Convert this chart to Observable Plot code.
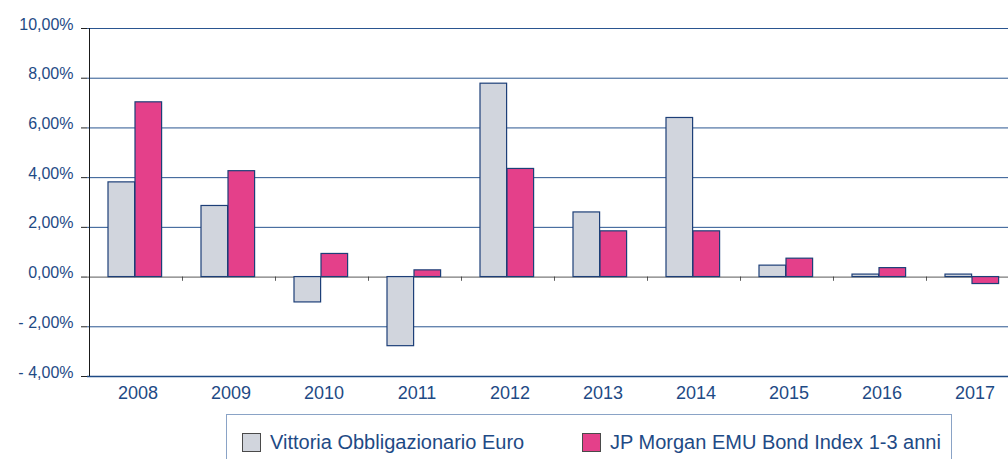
<!DOCTYPE html>
<html><head><meta charset="utf-8">
<script src="https://cdn.jsdelivr.net/npm/d3@7"></script>
<script src="https://cdn.jsdelivr.net/npm/@observablehq/plot@0.6"></script>
<style>
html,body{margin:0;padding:0;background:#fff;overflow:hidden;width:1008px;height:459px;}
#wrap{position:relative;width:1008px;height:459px;overflow:hidden;font-family:"Liberation Sans",Arial,sans-serif;}
#legend{position:absolute;left:226px;top:414px;width:726px;height:60px;border:1.5px solid #8aa3c6;box-sizing:border-box;}
.item{position:absolute;top:16px;display:flex;align-items:center;font-size:20px;color:#1e4a85;white-space:nowrap;}
.sw{width:17px;height:17px;border:1.5px solid #4a4a4a;margin-right:9px;}
</style></head>
<body><div id="wrap"><div id="chart"></div><div id="legend"></div></div>
<script>
const years = ["2008","2009","2010","2011","2012","2013","2014","2015","2016","2017"];
const vittoria = [3.81, 2.86, -1.02, -2.78, 7.78, 2.60, 6.40, 0.46, 0.10, 0.10];
const jpMorgan = [7.03, 4.26, 0.93, 0.27, 4.35, 1.84, 1.84, 0.74, 0.36, -0.28];
const seriesNames = ["Vittoria Obbligazionario Euro", "JP Morgan EMU Bond Index 1-3 anni"];
const tickValues = [-4, -2, 0, 2, 4, 6, 8, 10];
const tickLabels = ["- 4,00%", "- 2,00%", "0,00%", "2,00%", "4,00%", "6,00%", "8,00%", "10,00%"];
const gridValues = [-2, 2, 4, 6, 8, 10];

const colors = ["#d1d5dd", "#e4408a"];
const textColor = "#1e4a85";
const W = 1008, H = 410, mL = 87, mR = -13;
const bw = (W - mL - mR) / years.length;

const rowsV = years.map((y, i) => ({year: y, value: vittoria[i]}));
const rowsJ = years.map((y, i) => ({year: y, value: jpMorgan[i]}));

const chart = Plot.plot({
  width: W, height: H,
  marginLeft: mL, marginRight: mR, marginTop: 28, marginBottom: H - 376,
  style: {fontFamily: "'Liberation Sans', Arial, sans-serif", color: textColor, background: "white", overflow: "hidden"},
  x: {domain: years, padding: 0, axis: null},
  y: {domain: [-4, 10], axis: null},
  marks: [
    Plot.ruleY(gridValues, {stroke: "#2a5590", strokeWidth: 1}),
    Plot.ruleY([0], {stroke: "#7a7a7a", strokeWidth: 1.3}),
    Plot.barY(years, {x: d => d, y1: 0, y2: -0.17, insetRight: bw - 1.2, fill: "#333"}),
    Plot.barY(rowsV, {x: "year", y: "value", insetLeft: 19, insetRight: bw - 46, fill: colors[0], stroke: "#1d3f78", strokeWidth: 1.2}),
    Plot.barY(rowsJ, {x: "year", y: "value", insetLeft: 46, insetRight: bw - 73, fill: colors[1], stroke: "#1d3f78", strokeWidth: 1.2}),
    Plot.ruleY([-4], {stroke: "#1e4a85", strokeWidth: 1.6}),
    Plot.barY(years.slice(0, 1), {x: d => d, y1: -4, y2: 10, insetRight: bw - 1.4, fill: "#1a1a1a"}),
    Plot.axisY({ticks: tickValues, tickFormat: () => "", tickSize: 6, stroke: "#222", label: null}),
    Plot.axisY({ticks: tickValues, tickFormat: (d) => tickLabels[tickValues.indexOf(d)], tickSize: 0, tickPadding: 14, fontSize: 16, dy: -4, label: null, fill: textColor}),
    Plot.axisX({tickSize: 0, tickPadding: 10, fontSize: 18, dx: 2, label: null, fill: textColor})
  ]
});
document.getElementById("chart").appendChild(chart);

const legend = document.getElementById("legend");
const itemLeft = [15, 355];
seriesNames.forEach((name, i) => {
  const it = document.createElement("div");
  it.className = "item";
  it.style.left = itemLeft[i] + "px";
  const sw = document.createElement("div");
  sw.className = "sw";
  sw.style.background = colors[i];
  const tx = document.createElement("span");
  tx.textContent = name;
  it.appendChild(sw); it.appendChild(tx);
  legend.appendChild(it);
});
</script></body></html>
